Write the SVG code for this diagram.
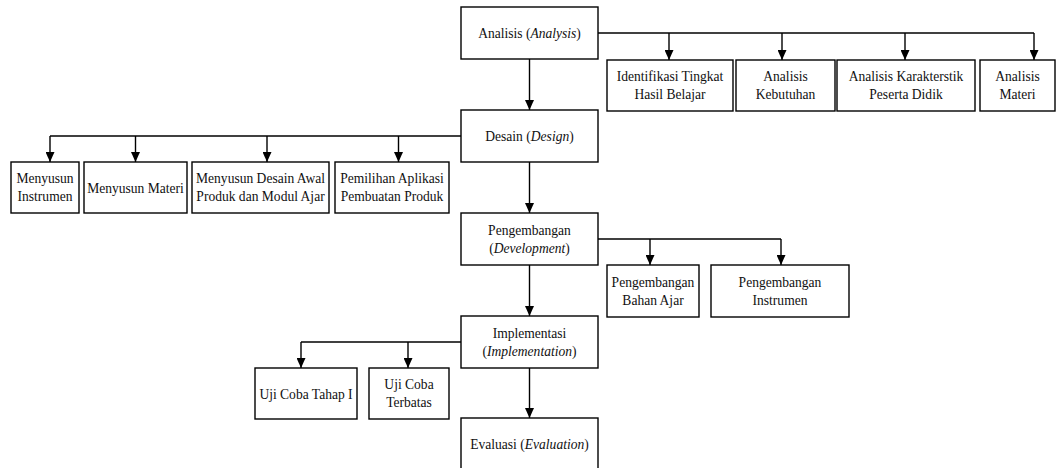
<svg xmlns="http://www.w3.org/2000/svg" width="1056" height="468" viewBox="0 0 1056 468" font-family="Liberation Serif, DejaVu Serif, serif">
<style>
rect.box{fill:#fff;stroke:#000;stroke-width:1.4}
text{font-family:'Liberation Serif','DejaVu Serif',serif;font-size:15.5px;fill:#111;text-anchor:middle}
.i{font-style:italic}
.c{fill:none;stroke:#000;stroke-width:1.4}
.a{marker-end:url(#ah)}
</style>
<defs>
<marker id="ah" markerUnits="userSpaceOnUse" markerWidth="10" markerHeight="9" refX="10" refY="4.5" orient="auto">
<path d="M0,0 L10,4.5 L0,9 z" fill="#000"/>
</marker>
</defs>
<rect width="1056" height="468" fill="#fff"/>
<g id="connectors">
<path class="c a" d="M529.5,59 V110"/>
<path class="c" d="M598,33 H1034"/>
<path class="c a" d="M669,33 V60"/>
<path class="c a" d="M782,33 V60"/>
<path class="c a" d="M905,33 V60"/>
<path class="c a" d="M1034,33 V60"/>
<path class="c" d="M461,136 H50"/>
<path class="c a" d="M50,136 V162"/>
<path class="c a" d="M135.5,136 V162"/>
<path class="c a" d="M267,136 V162"/>
<path class="c a" d="M398.5,136 V162"/>
<path class="c a" d="M529.5,162 V213"/>
<path class="c" d="M598,239 H781"/>
<path class="c a" d="M650,239 V265"/>
<path class="c a" d="M781,239 V265"/>
<path class="c a" d="M529.5,265 V316"/>
<path class="c" d="M461,342 H301"/>
<path class="c a" d="M301,342 V368"/>
<path class="c a" d="M408,342 V368"/>
<path class="c a" d="M529.5,368 V418"/>
</g>
<g id="analysis"><rect class="box" x="461" y="7" width="137" height="52"/>
<text transform="matrix(.875 0 0 1 529.5 0)" x="0" y="38.5">Analisis (<tspan class="i">Analysis</tspan>)</text></g>
<g id="identifikasi"><rect class="box" x="607" y="60" width="126" height="51"/>
<text transform="matrix(.875 0 0 1 670 0)"><tspan x="0" y="81.5">Identifikasi Tingkat</tspan><tspan x="0" y="99.5">Hasil Belajar</tspan></text></g>
<g id="kebutuhan"><rect class="box" x="736" y="60" width="99" height="51"/>
<text transform="matrix(.875 0 0 1 785.5 0)"><tspan x="0" y="81.5">Analisis</tspan><tspan x="0" y="99.5">Kebutuhan</tspan></text></g>
<g id="karakteristik"><rect class="box" x="837" y="60" width="138" height="51"/>
<text transform="matrix(.875 0 0 1 906 0)"><tspan x="0" y="81.5">Analisis Karakterstik</tspan><tspan x="0" y="99.5">Peserta Didik</tspan></text></g>
<g id="materi"><rect class="box" x="980" y="60" width="75" height="51"/>
<text transform="matrix(.875 0 0 1 1017.5 0)"><tspan x="0" y="81.5">Analisis</tspan><tspan x="0" y="99.5">Materi</tspan></text></g>
<g id="desain"><rect class="box" x="461" y="110" width="137" height="52"/>
<text transform="matrix(.875 0 0 1 529.5 0)" x="0" y="141.5">Desain (<tspan class="i">Design</tspan>)</text></g>
<g id="menyusun-instrumen"><rect class="box" x="11" y="162" width="68" height="51"/>
<text transform="matrix(.875 0 0 1 45 0)"><tspan x="0" y="183.5">Menyusun</tspan><tspan x="0" y="201.5">Instrumen</tspan></text></g>
<g id="menyusun-materi"><rect class="box" x="84" y="162" width="103" height="51"/>
<text transform="matrix(.875 0 0 1 135.5 0)" x="0" y="193">Menyusun Materi</text></g>
<g id="menyusun-desain"><rect class="box" x="192" y="162" width="137" height="51"/>
<text transform="matrix(.875 0 0 1 260.5 0)"><tspan x="0" y="183.5">Menyusun Desain Awal</tspan><tspan x="0" y="201.5">Produk dan Modul Ajar</tspan></text></g>
<g id="pemilihan"><rect class="box" x="335" y="162" width="114" height="51"/>
<text transform="matrix(.875 0 0 1 392 0)"><tspan x="0" y="183.5">Pemilihan Aplikasi</tspan><tspan x="0" y="201.5">Pembuatan Produk</tspan></text></g>
<g id="pengembangan"><rect class="box" x="461" y="213" width="137" height="52"/>
<text transform="matrix(.875 0 0 1 529.5 0)"><tspan x="0" y="235">Pengembangan</tspan><tspan x="0" y="253">(<tspan class="i">Development</tspan>)</tspan></text></g>
<g id="bahan-ajar"><rect class="box" x="607" y="265" width="92" height="52"/>
<text transform="matrix(.875 0 0 1 653 0)"><tspan x="0" y="287">Pengembangan</tspan><tspan x="0" y="305">Bahan Ajar</tspan></text></g>
<g id="pengembangan-instrumen"><rect class="box" x="711" y="265" width="138" height="52"/>
<text transform="matrix(.875 0 0 1 780 0)"><tspan x="0" y="287">Pengembangan</tspan><tspan x="0" y="305">Instrumen</tspan></text></g>
<g id="implementasi"><rect class="box" x="461" y="316" width="137" height="52"/>
<text transform="matrix(.875 0 0 1 529.5 0)"><tspan x="0" y="338">Implementasi</tspan><tspan x="0" y="356">(<tspan class="i">Implementation</tspan>)</tspan></text></g>
<g id="uji-coba-tahap"><rect class="box" x="255" y="368" width="102" height="51"/>
<text transform="matrix(.875 0 0 1 306 0)" x="0" y="399">Uji Coba Tahap I</text></g>
<g id="uji-coba-terbatas"><rect class="box" x="369" y="368" width="80" height="51"/>
<text transform="matrix(.875 0 0 1 409 0)"><tspan x="0" y="389.5">Uji Coba</tspan><tspan x="0" y="407.5">Terbatas</tspan></text></g>
<g id="evaluasi"><rect class="box" x="461" y="418" width="137" height="54"/>
<text transform="matrix(.875 0 0 1 529.5 0)" x="0" y="449.5">Evaluasi (<tspan class="i">Evaluation</tspan>)</text></g>
</svg>
